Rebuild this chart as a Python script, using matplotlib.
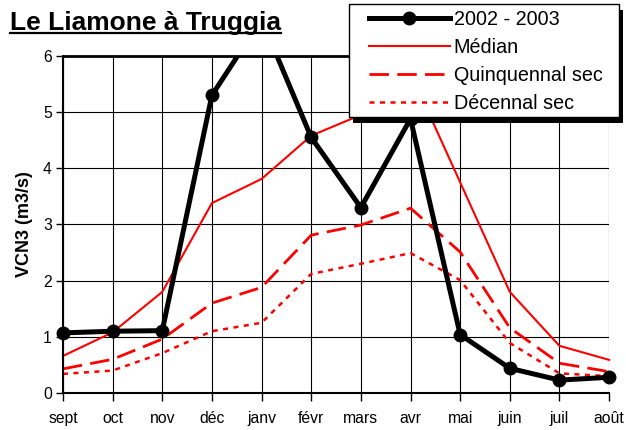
import numpy as np
import matplotlib
matplotlib.use('Agg')
import matplotlib.pyplot as plt
from matplotlib.lines import Line2D
from matplotlib.patches import Rectangle

plt.rcParams['font.family'] = ['Liberation Sans', 'DejaVu Sans']

months = ['sept', 'oct', 'nov', 'déc', 'janv', 'févr', 'mars', 'avr', 'mai', 'juin', 'juil', 'août']
year_2002_2003 = [1.07, 1.10, 1.11, 5.30, 6.65, 4.55, 3.30, 4.88, 1.04, 0.44, 0.23, 0.28]
median = [0.66, 1.08, 1.80, 3.38, 3.81, 4.58, 4.95, 5.70, 3.75, 1.80, 0.84, 0.59]
quinquennal = [0.43, 0.60, 0.96, 1.60, 1.88, 2.81, 2.99, 3.29, 2.51, 1.16, 0.53, 0.38]
decennal = [0.34, 0.40, 0.71, 1.10, 1.25, 2.12, 2.30, 2.49, 2.01, 0.89, 0.35, 0.30]

x = np.arange(len(months))
W, H = 626, 430

fig = plt.figure(figsize=(6.26, 4.30), dpi=100)
ax = fig.add_axes([0.1006, 0.086, 0.8724, 0.784])

# clip area a bit wider than the axes so end markers are not cut
clip = Rectangle((-0.05, -0.05), 1.1, 1.05, transform=ax.transAxes, visible=False)
ax.add_patch(clip)

l_med, = ax.plot(x, median, color='red', lw=1.5, label='Médian')
l_q, = ax.plot(x, quinquennal, color='red', lw=2.0, dashes=(7, 3), label='Quinquennal sec')
l_d, = ax.plot(x, decennal, color='red', lw=1.8, dashes=(2, 2.2), label='Décennal sec')
l_y, = ax.plot(x, year_2002_2003, color='black', lw=3.6, marker='o', markersize=9,
               label='2002 - 2003', zorder=5)
for ln in (l_med, l_q, l_d, l_y):
    ln.set_clip_path(clip)

ax.set_xlim(0, 11)
ax.set_ylim(0, 6)
ax.set_xticks(x)
ax.set_xticklabels(months, fontsize=11.3)
ax.set_yticks(range(7))
ax.tick_params(axis='y', labelsize=11.3, length=5, width=1, direction='out', pad=3)
ax.tick_params(axis='x', length=6, width=1, direction='out', pad=7)
ax.grid(True, color='black', lw=0.8)
ax.set_axisbelow(True)
ax.spines['right'].set_visible(False)
ax.spines['top'].set_linewidth(2)
ax.spines['left'].set_linewidth(1.5)
ax.spines['bottom'].set_linewidth(1.5)

ax.set_ylabel('VCN3 (m3/s)', fontsize=13, fontweight='bold', labelpad=7)

# legend box with a solid drop shadow, drawn by hand
bx0, bx1, by0, by1 = 349, 619, 4, 117
fig.add_artist(Rectangle(((bx0 + 4) / W, 1 - (by1 + 6) / H), (bx1 - bx0) / W, (by1 - by0) / H,
                         transform=fig.transFigure, facecolor='black', edgecolor='none', zorder=8))
fig.add_artist(Rectangle((bx0 / W, 1 - by1 / H), (bx1 - bx0) / W, (by1 - by0) / H,
                         transform=fig.transFigure, facecolor='white', edgecolor='black',
                         lw=1, zorder=9))
leg = fig.legend(handles=[l_y, l_med, l_q, l_d], loc='upper left',
                 bbox_to_anchor=(369 / W, 1 - 10 / H), bbox_transform=fig.transFigure,
                 fontsize=14.2, frameon=False,
                 handlelength=4.1, handletextpad=0.2, labelspacing=0.45,
                 borderpad=0, borderaxespad=0)
leg.set_zorder(10)

title = fig.text(10 / W, 1 - 30 / H, 'Le Liamone à Truggia', fontsize=19,
                 fontweight='bold', ha='left', va='baseline')
fig.canvas.draw()
bb = title.get_window_extent().transformed(fig.transFigure.inverted())
uy = 1 - 33 / H
fig.add_artist(Line2D([bb.x0, bb.x1], [uy, uy], color='black', lw=1.6,
                      transform=fig.transFigure))

fig.savefig('out.png', dpi=100)
